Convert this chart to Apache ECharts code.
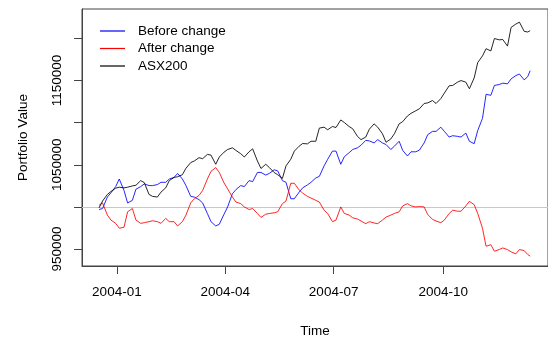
<!DOCTYPE html>
<html>
<head>
<meta charset="utf-8">
<script src="https://cdn.jsdelivr.net/npm/echarts@6/dist/echarts.min.js"></script>
<style>html,body{margin:0;padding:0;background:#fff}#c{width:548px;height:343px}</style>
</head>
<body>
<div id="c"></div>
<script>
var dates = ['2003-12-17','2003-12-20','2003-12-24','2003-12-27','2003-12-31',
'2004-01-03','2004-01-07','2004-01-10','2004-01-14','2004-01-17','2004-01-21','2004-01-24','2004-01-28','2004-01-31',
'2004-02-04','2004-02-07','2004-02-11','2004-02-14','2004-02-18','2004-02-21','2004-02-25','2004-02-28',
'2004-03-03','2004-03-06','2004-03-10','2004-03-13','2004-03-17','2004-03-20','2004-03-24','2004-03-27','2004-03-31',
'2004-04-03','2004-04-07','2004-04-10','2004-04-14','2004-04-17','2004-04-21','2004-04-24','2004-04-28',
'2004-05-01','2004-05-05','2004-05-08','2004-05-12','2004-05-15','2004-05-19','2004-05-22','2004-05-26','2004-05-29',
'2004-06-02','2004-06-05','2004-06-09','2004-06-12','2004-06-16','2004-06-19','2004-06-23','2004-06-26','2004-06-30',
'2004-07-03','2004-07-07','2004-07-10','2004-07-14','2004-07-17','2004-07-21','2004-07-24','2004-07-28','2004-07-31',
'2004-08-04','2004-08-07','2004-08-11','2004-08-14','2004-08-18','2004-08-21','2004-08-25','2004-08-28',
'2004-09-01','2004-09-04','2004-09-08','2004-09-11','2004-09-15','2004-09-18','2004-09-22','2004-09-25','2004-09-29',
'2004-10-02','2004-10-06','2004-10-09','2004-10-13','2004-10-16','2004-10-20','2004-10-23','2004-10-27','2004-10-30',
'2004-11-03','2004-11-06','2004-11-10','2004-11-13','2004-11-17','2004-11-20','2004-11-24','2004-11-27',
'2004-12-01','2004-12-04','2004-12-08','2004-12-11','2004-12-13'];

var beforeChange = [996900,998100,1011700,1016700,1024100,1033100,1019500,1004700,1007800,1021000,
1024100,1027300,1025300,1025300,1026500,1029200,1029200,1033100,1035000,1039700,
1033100,1025300,1012500,1011700,1008600,1004700,992200,982500,977400,979400,
991400,1000000,1015600,1020600,1025300,1024100,1031200,1030000,1040900,1040900,
1037800,1039700,1044000,1042800,1031200,1029200,1009700,1009700,1017500,1022600,
1026100,1029200,1034300,1036200,1048700,1056500,1066200,1066200,1050600,1059600,
1064300,1068100,1070100,1073200,1079000,1078300,1075900,1079800,1075900,1074000,
1068100,1072000,1077900,1067000,1060400,1065400,1065400,1067400,1075900,1085700,
1089600,1089600,1094600,1089600,1082900,1084500,1083700,1082900,1087600,1077900,
1075000,1090700,1105100,1133600,1132400,1144100,1145200,1146800,1146000,1151900,
1155800,1157700,1150700,1154600,1161600];

var afterChange = [1001900,1004700,990300,984400,980500,974700,975900,994200,998100,984400,
980500,981300,982500,983600,982500,980500,986400,982500,982500,977400,
982500,990300,1004700,1009700,1013600,1019500,1033100,1042100,1046700,1040900,
1028400,1021400,1011700,1005800,1003900,1000000,996900,998100,992200,987500,
991400,992200,993000,994200,1003900,1007000,1028000,1028000,1020200,1016400,
1012500,1010500,1007800,1005800,996100,992200,982500,984400,1000000,992200,
990300,987100,985600,983300,980100,982500,980900,980100,984400,987900,
990300,992200,994200,1001200,1003900,1001200,1000000,1000400,1000000,991000,
985200,983300,981300,984400,992200,996100,994900,994900,1001200,1006600,
1002700,992200,974700,953300,955200,947400,949400,951300,949400,946700,
944300,949400,948200,943500,941600];

var asx200 = [998800,1007000,1014800,1018300,1022200,1023400,1022600,1023400,1024900,1025700,
1031200,1028800,1014800,1012500,1011700,1017500,1022600,1031200,1035000,1035800,
1038200,1045900,1052600,1054500,1058400,1057200,1062300,1061500,1050600,1059200,
1065000,1068100,1070100,1067000,1063100,1059200,1065400,1068900,1054500,1045600,
1050600,1046700,1040900,1038200,1033900,1048700,1056500,1066200,1072000,1075200,
1074800,1077900,1077900,1093500,1094600,1091500,1095400,1094200,1103200,1100100,
1095400,1092700,1083700,1079800,1082900,1092300,1098500,1094600,1086800,1076700,
1080600,1086800,1098500,1101200,1107900,1111000,1114100,1116400,1122700,1123400,
1126200,1122700,1128500,1135100,1143700,1144100,1148000,1149900,1148000,1140200,
1153000,1171300,1179100,1187700,1185000,1199800,1198200,1198600,1190800,1213000,
1216900,1219200,1208300,1207500,1209100];

var seriesNames = ['Before change', 'After change', 'ASX200'];
var seriesColors = ['#0000ff', '#ff0000', '#000000'];
var xTickDates = ['2004-01-01', '2004-04-01', '2004-07-01', '2004-10-01'];
var xTickLabels = ['2004-01', '2004-04', '2004-07', '2004-10'];
var yTicks = [950000, 1000000, 1050000, 1100000, 1150000, 1200000];
var yTickLabels = [950000, 1050000, 1150000];
var refLine = 1000000;

function ts(s) { var p = s.split(/[- :]/).map(Number); return Date.UTC(p[0], p[1] - 1, p[2], p[3] || 0); }
function pairs(vals) { return vals.map(function (v, i) { return [ts(dates[i]), v]; }); }
var xTickTs = xTickDates.map(ts);

var FONT = 'Liberation Sans, Arial, Helvetica, sans-serif';
var FS = 13.5;
var chart = echarts.init(document.getElementById('c'), null, { renderer: 'canvas' });
var allSeries = [beforeChange, afterChange, asx200].map(function (vals, k) {
  var s = {
    name: seriesNames[k], type: 'line', data: pairs(vals), showSymbol: false, symbol: 'none',
    lineStyle: { color: seriesColors[k], width: 1, opacity: 0.85 }, itemStyle: { color: seriesColors[k] },
    animation: false, z: 3 + k
  };
  if (k === 0) {
    s.markLine = { silent: true, symbol: 'none', label: { show: false },
      lineStyle: { color: '#c8c8c8', width: 1, type: 'solid' }, data: [{ yAxis: refLine }], z: 1 };
  }
  return s;
});

chart.setOption({
  backgroundColor: '#fff',
  animation: false,
  grid: { left: 82, top: 9, width: 471, height: 261, show: true, borderColor: '#444', borderWidth: 1, containLabel: false },
  legend: {
    orient: 'vertical', left: 95, top: 18, itemWidth: 25, itemHeight: 1.2, itemGap: 1.5, icon: 'rect',
    data: seriesNames,
    textStyle: { fontFamily: FONT, fontSize: FS, color: '#000', lineHeight: 16, padding: [0, 0, 0, 8] }
  },
  xAxis: {
    type: 'value', min: ts('2003-12-02 17'), max: ts('2004-12-28'),
    name: 'Time', nameLocation: 'middle', nameGap: 58,
    nameTextStyle: { fontFamily: FONT, fontSize: FS, color: '#000' },
    axisLine: { show: true, lineStyle: { color: '#444', width: 1 } },
    axisTick: { show: true, length: 8, inside: false, customValues: xTickTs, lineStyle: { color: '#444' } },
    axisLabel: { show: true, customValues: xTickTs, margin: 19, fontFamily: FONT, fontSize: FS, color: '#000',
      formatter: function (v) { var i = xTickTs.indexOf(v); return i >= 0 ? xTickLabels[i] : ''; } },
    splitLine: { show: false }
  },
  yAxis: {
    type: 'value', min: 929900, max: 1234800,
    name: 'Portfolio Value', nameLocation: 'middle', nameGap: 52,
    nameTextStyle: { fontFamily: FONT, fontSize: FS, color: '#000' },
    axisLine: { show: true, lineStyle: { color: '#444', width: 1 } },
    axisTick: { show: true, length: 8, inside: false, customValues: yTicks, lineStyle: { color: '#444' } },
    axisLabel: { show: true, customValues: yTickLabels, rotate: 90, margin: 18, fontFamily: FONT, fontSize: FS, color: '#000',
      formatter: function (v) { return String(v); } },
    splitLine: { show: false }
  },
  series: allSeries
});
</script>
</body>
</html>
